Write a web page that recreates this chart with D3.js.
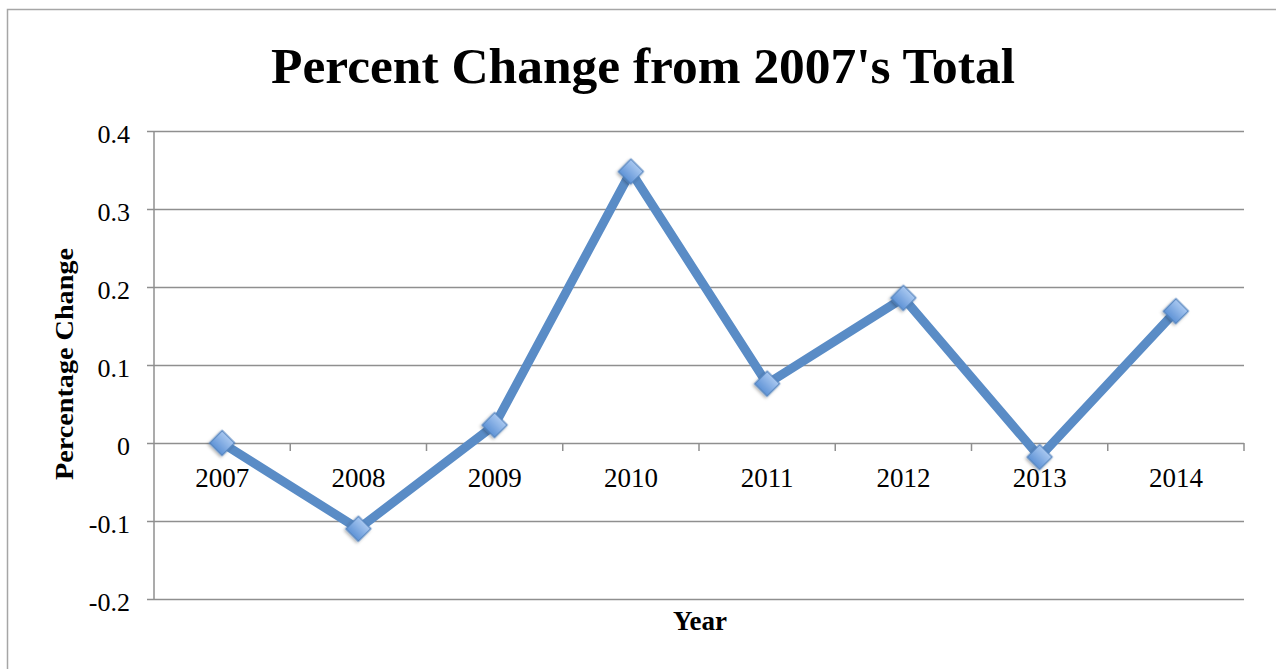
<!DOCTYPE html>
<html><head><meta charset="utf-8">
<script src="https://cdn.jsdelivr.net/npm/d3@7"></script>
<style>html,body{margin:0;padding:0;background:#fff;}svg{display:block;}</style>
</head><body>
<svg id="chart" width="1276" height="669"></svg>
<script>
const years = ["2007","2008","2009","2010","2011","2012","2013","2014"];
const pctChange = [0, -0.110, 0.023, 0.348, 0.076, 0.186, -0.018, 0.169];
const yTicks = [-0.2, -0.1, 0, 0.1, 0.2, 0.3, 0.4];
const titleText = "Percent Change from 2007's Total";
const xTitle = "Year";
const yTitle = "Percentage Change";

const svg = d3.select("#chart");
const font = "'Liberation Serif', 'DejaVu Serif', serif";

svg.append("rect").attr("x", 7.5).attr("y", 9.5).attr("width", 1300).attr("height", 700)
  .attr("fill", "#fff").attr("stroke", "#a6a6a6").attr("stroke-width", 1.5);

const x = d3.scaleBand().domain(years).range([154, 1244]);
const y = d3.scaleLinear().domain([-0.2, 0.4]).range([599, 131]);

const defs = svg.append("defs");
const grad = defs.append("linearGradient").attr("id", "mk").attr("x1", 0).attr("y1", 0).attr("x2", 0).attr("y2", 1);
grad.append("stop").attr("offset", "0%").attr("stop-color", "#a9c8f0");
grad.append("stop").attr("offset", "100%").attr("stop-color", "#5f93d6");
const flt = defs.append("filter").attr("id", "sh").attr("x", "-50%").attr("y", "-50%").attr("width", "200%").attr("height", "200%");
flt.append("feDropShadow").attr("dx", 0).attr("dy", 2).attr("stdDeviation", 1.5).attr("flood-color", "#000").attr("flood-opacity", 0.3);

// gridlines + y axis
const fmt = d => d === 0 ? "0" : d3.format(".1f")(d).replace("\u2212", "-");
const yAxis = d3.axisLeft(y).tickValues(yTicks).tickSize(0).tickPadding(0).tickFormat(fmt);
const gy = svg.append("g").attr("transform", "translate(154,0)").call(yAxis);
gy.select(".domain").remove();
gy.selectAll(".tick line").remove();
gy.selectAll(".tick").append("line").attr("x1", -7).attr("x2", 1090)
  .attr("stroke", "#8f8f8f").attr("stroke-width", 1.5);
gy.selectAll(".tick text").attr("x", -24).attr("dy", 11)
  .attr("font-family", font).attr("font-size", 26).attr("fill", "#000");

svg.append("line").attr("x1", 154).attr("x2", 154).attr("y1", 131).attr("y2", 599)
  .attr("stroke", "#8f8f8f").attr("stroke-width", 1.5);

// category axis on zero line
const xAxis = d3.axisBottom(x).tickSize(0).tickPadding(0);
const gx = svg.append("g").attr("transform", `translate(0,${y(0)})`).call(xAxis);
gx.select(".domain").remove();
gx.selectAll(".tick line").remove();
gx.selectAll(".tick text").attr("y", 44).attr("dy", 0)
  .attr("font-family", font).attr("font-size", 27).attr("fill", "#000");
const bounds = years.slice(1).map(d => x(d)).concat([x.range()[1]]);
svg.append("g").selectAll("line").data(bounds).join("line")
  .attr("x1", d => d).attr("x2", d => d)
  .attr("y1", y(0)).attr("y2", y(0) + 8)
  .attr("stroke", "#8f8f8f").attr("stroke-width", 1.5);

// line
const line = d3.line().x((d, i) => x(years[i]) + x.bandwidth() / 2).y(d => y(d));
svg.append("path").datum(pctChange).attr("d", line)
  .attr("fill", "none").attr("stroke", "#5a8cc6").attr("stroke-width", 9).attr("stroke-linejoin", "miter");

// markers
svg.append("g").selectAll("path").data(pctChange).join("path")
  .attr("d", d3.symbol().type(d3.symbolSquare).size(310))
  .attr("transform", (d, i) => `translate(${x(years[i]) + x.bandwidth() / 2},${y(d)}) rotate(45)`)
  .attr("fill", "url(#mk)").attr("stroke", "#4f81bd").attr("stroke-width", 1.2)
  .attr("filter", "url(#sh)");

// titles
svg.append("text").attr("x", 643).attr("y", 83).attr("text-anchor", "middle")
  .attr("font-family", font).attr("font-weight", "bold").attr("font-size", 51)
  .attr("textLength", 744).attr("lengthAdjust", "spacingAndGlyphs")
  .text(titleText);
svg.append("text").attr("x", 700).attr("y", 630).attr("text-anchor", "middle")
  .attr("font-family", font).attr("font-weight", "bold").attr("font-size", 27)
  .text(xTitle);
svg.append("text").attr("transform", "translate(73,364) rotate(-90)").attr("text-anchor", "middle")
  .attr("font-family", font).attr("font-weight", "bold").attr("font-size", 25)
  .attr("textLength", 232).attr("lengthAdjust", "spacingAndGlyphs")
  .text(yTitle);
</script>
</body></html>
